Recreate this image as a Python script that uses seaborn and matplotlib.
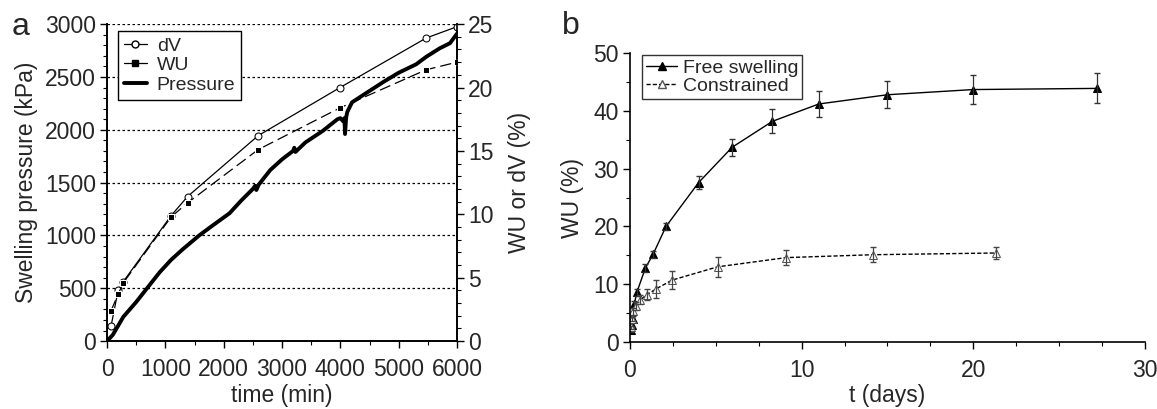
import numpy as np
import pandas as pd
import matplotlib
matplotlib.use("Agg")
import matplotlib.pyplot as plt
from matplotlib.ticker import MultipleLocator
from matplotlib.lines import Line2D
import seaborn as sns

# panel a: volume change and water uptake (right axis, %)
dv_t = [70, 190, 280, 1100, 1380, 2590, 3995, 5470, 6000]
dv_val = [1.2, 4.0, 4.7, 9.9, 11.4, 16.2, 20.0, 23.9, 24.8]
wu_t = [70, 190, 280, 1100, 1380, 2590, 3995, 5470, 6000]
wu_val = [2.4, 3.7, 4.6, 9.8, 10.9, 15.1, 18.4, 21.4, 22.0]

# panel a: swelling pressure (left axis, kPa)
p_t = [0, 100, 280, 500, 686, 900, 1100, 1300, 1580, 1800, 2100, 2300, 2500, 2540,
       2560, 2600, 2800, 3000, 3190, 3210, 3230, 3400, 3700, 3950, 4000, 4050, 4070,
       4080, 4100, 4120, 4200, 4450, 4730, 5000, 5300, 5470, 5700, 5880, 6000]
p_val = [0, 60, 230, 370, 500, 650, 770, 870, 1000, 1090, 1210, 1330, 1440, 1470,
         1430, 1480, 1620, 1720, 1800, 1830, 1790, 1880, 1990, 2100, 2110, 2080, 2110,
         1960, 2120, 2170, 2260, 2350, 2450, 2540, 2620, 2690, 2770, 2820, 2910]

# panel b: water uptake vs time
free_t = [0.05, 0.1, 0.17, 0.25, 0.4, 0.9, 1.35, 2.1, 4.0, 5.95, 8.3, 11.0, 15.0, 20.0, 27.2]
free_wu = [2.1, 3.0, 4.0, 6.5, 8.6, 12.8, 15.2, 20.0, 27.6, 33.7, 38.2, 41.2, 42.8, 43.7, 43.9]
free_err = [0.3, 0.4, 0.5, 0.6, 0.6, 0.7, 0.6, 0.6, 1.1, 1.5, 2.1, 2.3, 2.3, 2.5, 2.6]
con_t = [0.05, 0.1, 0.2, 0.35, 0.6, 1.0, 1.53, 2.45, 5.1, 9.1, 14.15, 21.35]
con_wu = [2.5, 4.0, 5.3, 6.2, 7.3, 8.2, 9.2, 10.7, 13.0, 14.6, 15.1, 15.4]
con_err = [0.3, 0.4, 0.6, 0.7, 0.8, 1.0, 1.6, 1.6, 1.7, 1.35, 1.3, 1.1]

sns.set_style("ticks")
plt.rcParams['font.family'] = ['Liberation Sans', 'DejaVu Sans']
plt.rcParams['font.size'] = 16

TICK_FS = 16.5
LAB_FS = 16.5


def style_ticks(a_):
    a_.tick_params(which='major', direction='out', length=5, width=1.0,
                   labelsize=TICK_FS, color='black', pad=3)
    a_.tick_params(which='minor', direction='out', length=3, width=0.8, color='black')
    a_.tick_params(axis='x', which='major', pad=7)
    for s in a_.spines.values():
        s.set_color('black')
        s.set_linewidth(1.2)


fig = plt.figure(figsize=(11.57, 4.09), dpi=100)
ax = fig.add_axes([0.0925, 0.166, 0.3025, 0.775])
ax2 = ax.twinx()

# pressure on left axis
sns.lineplot(x=p_t, y=p_val, ax=ax, color='black', lw=2.8, sort=False)
for yv in range(0, 3001, 500):
    ax.axhline(yv, color='black', ls=(0, (2, 2)), lw=0.9, zorder=0)
ax.set_xlim(0, 6000)
ax.set_ylim(0, 3000)
ax.xaxis.set_major_locator(MultipleLocator(1000))
ax.xaxis.set_minor_locator(MultipleLocator(500))
ax.yaxis.set_major_locator(MultipleLocator(500))
ax.yaxis.set_minor_locator(MultipleLocator(100))
ax.set_xlabel("time (min)", fontsize=LAB_FS, labelpad=2)
ax.set_ylabel("Swelling pressure (kPa)", fontsize=LAB_FS, labelpad=5)
ax.spines['top'].set_visible(False)

# dV and WU on right axis
sns.lineplot(x=dv_t, y=dv_val, ax=ax2, color='black', lw=0.9, marker='o',
             markerfacecolor='white', markeredgecolor='black', markersize=5)
sns.lineplot(x=wu_t, y=wu_val, ax=ax2, color='black', lw=0.9, ls=(0, (9, 4)),
             marker='s', markerfacecolor='black', markersize=5)
ax2.set_ylim(0, 25)
ax2.yaxis.set_major_locator(MultipleLocator(5))
ax2.yaxis.set_minor_locator(MultipleLocator(1))
ax2.set_ylabel("WU or dV (%)", fontsize=LAB_FS, labelpad=10)
ax2.spines['top'].set_visible(False)

style_ticks(ax)
style_ticks(ax2)

handles_a = [
    Line2D([], [], color='black', lw=0.9, marker='o', markerfacecolor='white', markersize=5),
    Line2D([], [], color='black', lw=0.9, marker='s', markersize=5),
    Line2D([], [], color='black', lw=2.8),
]
leg = ax2.legend(handles_a, ['dV', 'WU', 'Pressure'], loc='upper left',
                 bbox_to_anchor=(0.02, 0.99), fontsize=14, frameon=True, fancybox=False,
                 handlelength=1.2, handletextpad=0.5, borderpad=0.3, labelspacing=0.1,
                 borderaxespad=0.2)
leg.get_frame().set_edgecolor('black')
leg.get_frame().set_linewidth(1.0)
leg.get_frame().set_alpha(1)

fig.text(0.010, 0.914, 'a', fontsize=23)

# panel b
bx = fig.add_axes([0.5445, 0.164, 0.445, 0.706])
sns.lineplot(x=free_t, y=free_wu, ax=bx, color='black', lw=1.0, marker='^',
             markerfacecolor='black', markeredgecolor='black', markersize=6)
bx.errorbar(free_t, free_wu, yerr=free_err, fmt='none', ecolor='#333333',
            elinewidth=0.9, capsize=2)
sns.lineplot(x=con_t, y=con_wu, ax=bx, color='black', lw=1.0, ls=(0, (3, 1.5)),
             marker='^', markerfacecolor='white', markeredgecolor='#555555', markersize=6)
bx.errorbar(con_t, con_wu, yerr=con_err, fmt='none', ecolor='#444444',
            elinewidth=0.9, capsize=2)
bx.set_xlim(0, 30)
bx.set_ylim(0, 50)
bx.xaxis.set_major_locator(MultipleLocator(10))
bx.xaxis.set_minor_locator(MultipleLocator(2.5))
bx.yaxis.set_major_locator(MultipleLocator(10))
bx.yaxis.set_minor_locator(MultipleLocator(5))
bx.set_xlabel("t (days)", fontsize=LAB_FS, labelpad=2)
bx.set_ylabel("WU (%)", fontsize=LAB_FS, labelpad=7)
style_ticks(bx)
bx.spines['top'].set_visible(False)
bx.spines['right'].set_visible(False)

handles_b = [
    Line2D([], [], color='black', lw=1.0, marker='^', markerfacecolor='black', markersize=6),
    Line2D([], [], color='black', lw=1.0, ls=(0, (3, 1.5)), marker='^',
           markerfacecolor='white', markeredgecolor='#555555', markersize=6),
]
legb = bx.legend(handles_b, ['Free swelling', 'Constrained'], loc='upper left',
                 bbox_to_anchor=(0.02, 1.0), fontsize=14, frameon=True, fancybox=False,
                 handlelength=1.6, handletextpad=0.3, borderpad=0.2, labelspacing=0.05,
                 borderaxespad=0.1)
legb.get_frame().set_edgecolor('black')
legb.get_frame().set_linewidth(1.0)

fig.text(0.486, 0.917, 'b', fontsize=23)

fig.savefig("out.png", dpi=100)
